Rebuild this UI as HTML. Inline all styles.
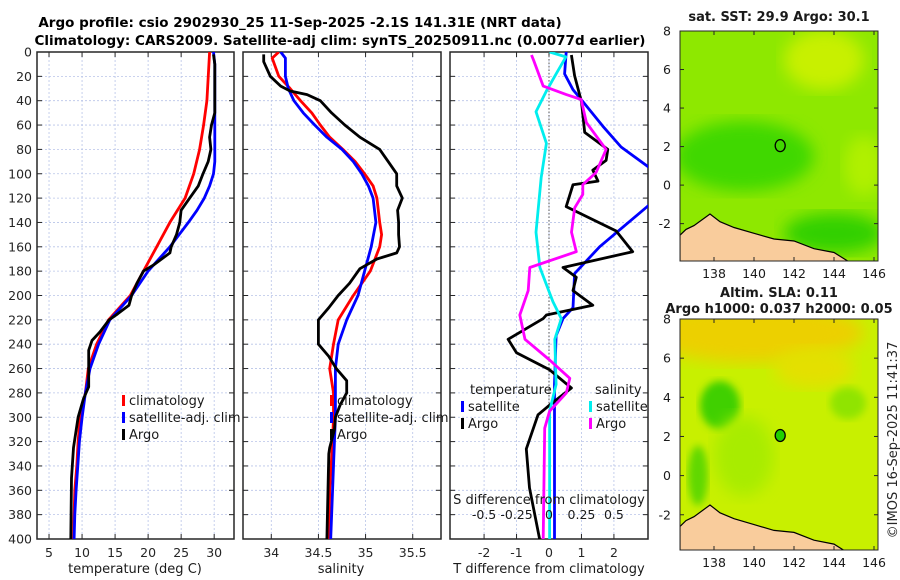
<!DOCTYPE html>
<html><head><meta charset="utf-8"><style>
html,body{margin:0;padding:0;background:#fff;}
svg{display:block;font-family:"DejaVu Sans","Liberation Sans",sans-serif;}
</style></head><body>
<svg id="fig" width="900" height="580" viewBox="0 0 900 580">
<defs>
<clipPath id="c1"><rect x="37" y="52" width="197" height="487"/></clipPath>
<clipPath id="c2"><rect x="243" y="52" width="198" height="487"/></clipPath>
<clipPath id="c3"><rect x="450" y="52" width="198" height="487"/></clipPath>
<clipPath id="cm1"><rect x="680" y="31" width="198" height="230"/></clipPath>
<clipPath id="cm2"><rect x="680" y="319" width="198" height="231"/></clipPath>
<filter id="blur8"><feGaussianBlur stdDeviation="8"/></filter>
<filter id="blur4"><feGaussianBlur stdDeviation="4"/></filter>
</defs>
<text x="300" y="27" text-anchor="middle" font-size="13.5" font-weight="bold" fill="#000">Argo profile: csio 2902930_25 11-Sep-2025 -2.1S 141.31E (NRT data)</text>
<text x="340" y="45" text-anchor="middle" font-size="13.5" font-weight="bold" fill="#000">Climatology: CARS2009. Satellite-adj clim: synTS_20250911.nc (0.0077d earlier)</text>
<g id="plots"></g>
<g id="maps"></g>
<text transform="translate(897,440) rotate(-90)" text-anchor="middle" font-size="13" fill="#262626">©IMOS 16-Sep-2025 11:41:37</text>
</svg>
<script>
// ---- data ----
var depthTicks = [0,20,40,60,80,100,120,140,160,180,200,220,240,260,280,300,320,340,360,380,400];
var tempTicks = [5,10,15,20,25,30];
var salTicks = [34,34.5,35,35.5];
var salTickLabels = ["34","34.5","35","35.5"];
var dTTicks = [-2,-1,0,1,2];
var dSTicks = [-0.5,-0.25,0,0.25,0.5];
var dSTickLabels = ["-0.5","-0.25","0","0.25","0.5"];

var tClimDepth = [0,40,60,80,100,120,140,160,180,200,220,240,260,280,300,320,340,360,380,400];
var tClimVals = [29.3,28.9,28.4,27.8,26.9,25.6,23.3,21.3,19.3,17.3,14.0,12.2,10.95,10.5,9.7,9.4,9.2,8.9,8.8,8.7];
var tSatDepth = [0,10,90,100,110,120,130,140,160,180,200,220,240,260,280,300,320,340,360,380,400];
var tSatVals = [29.9,30.1,30.1,29.9,29.3,28.5,27.4,26.1,23.3,20.0,17.5,14.2,12.5,11.2,10.5,10.0,9.6,9.35,9.1,8.9,8.8];
var tArgoDepth = [2,10,50,60,70,80,90,100,110,120,130,140,150,160,165,175,180,190,200,208,215,220,230,237,245,260,275,285,300,325,350,400];
var tArgoVals = [29.9,30.1,30.1,29.6,29.3,29.5,29.1,28.3,27.6,26.3,25.0,24.8,24.3,23.5,23.3,20.8,19.3,18.3,17.5,17.1,15.4,14.1,12.7,11.5,11.0,11.0,11.0,10.2,9.4,8.7,8.4,8.3];

var sClimDepth = [0,5,20,30,40,50,60,70,80,90,100,110,120,140,150,160,170,180,190,200,220,240,260,280,300,320,360,400];
var sClimVals = [34.08,34.01,34.08,34.2,34.31,34.43,34.52,34.62,34.76,34.89,34.99,35.08,35.12,35.15,35.17,35.15,35.10,35.05,34.96,34.87,34.71,34.66,34.62,34.66,34.66,34.65,34.62,34.61];
var sSatDepth = [0,5,20,30,40,50,60,70,80,90,100,110,120,140,160,180,200,220,240,260,300,340,400];
var sSatVals = [34.1,34.15,34.15,34.18,34.24,34.34,34.46,34.59,34.75,34.87,34.96,35.03,35.08,35.11,35.06,34.99,34.92,34.80,34.71,34.68,34.68,34.66,34.63];
var sArgoDepth = [2,8,20,28,32,35,40,50,60,70,80,90,100,110,120,130,140,150,160,165,170,178,190,200,210,220,240,250,260,270,280,290,300,310,325,330,400];
var sArgoVals = [33.92,33.92,33.99,34.1,34.2,34.38,34.52,34.64,34.78,34.94,35.15,35.24,35.33,35.33,35.39,35.34,35.35,35.35,35.36,35.33,35.12,34.94,34.83,34.71,34.61,34.50,34.50,34.61,34.69,34.80,34.80,34.73,34.68,34.67,34.62,34.61,34.59];

var dTArgoDepth = [2.5,19.5,41,66,80,89,97,106,109,127,147,164,177,185,196,208,216,219,236,247,261,276,290,298,326,358,400];
var dTArgoVals = [0.69,0.79,1.0,1.10,1.81,1.76,1.35,1.51,0.74,0.53,2.07,2.58,0.43,0.84,0.74,1.35,-0.08,-0.18,-1.26,-1.0,0.02,0.69,0.02,-0.34,-0.70,-0.60,-0.29];
var dTSatDepth = [0,18,31,41,61,78,99,109,123,160,182,210,219,233,273,400];
var dTSatVals = [0.53,0.48,0.74,1.05,1.66,2.22,3.3,3.4,3.2,1.56,0.79,0.74,0.43,0.22,0.17,0.17];
var dSSatDepth = [0,4,18,32,49,75,103,148,177,205,219,236,273,295,400];
var dSSatVals = [0.005,0.13,0.055,-0.02,-0.10,-0.02,-0.06,-0.10,-0.07,0.03,0.095,0.045,0.055,0.005,0.005];
var dSArgoDepth = [2.5,7,28,35,39,58,80,99,109,117,128,148,164,177,196,216,236,253,268,280,295,309,400];
var dSArgoVals = [-0.135,-0.118,-0.045,0.133,0.248,0.288,0.44,0.363,0.26,0.26,0.198,0.173,0.21,-0.148,-0.16,-0.225,-0.185,0.005,0.16,0.133,0.005,-0.033,-0.045];

var mapLonTicks = [138,140,142,144,146];
var mapLatTicks = [8,6,4,2,0,-2];
var coastLon = [136.3,136.6,137.0,137.8,138.3,139.0,140.0,141.0,142.0,143.0,144.0,144.7];
var coastLat = [-2.6,-2.3,-2.1,-1.5,-1.9,-2.2,-2.5,-2.8,-2.9,-3.3,-3.5,-3.95];
var floatLon = [141.31];
var floatLat = [2.05];

// ---- helpers ----
var NS = "http://www.w3.org/2000/svg";
function mk(tag, attrs, parent){var e=document.createElementNS(NS,tag);for(var k in attrs)e.setAttribute(k,attrs[k]);parent.appendChild(e);return e;}
var plots = document.getElementById('plots');
var Y0=52, Y1=539;
function yD(d){return Y0 + d*(Y1-Y0)/400;}
function linScale(d0,d1,r0,r1){return function(v){return r0+(v-d0)*(r1-r0)/(d1-d0);};}
var xT = linScale(3.18,33.0,37,234);
var xS = linScale(33.70,35.80,243,441);
var xDT = linScale(-3.05,3.05,450,648);
var xDS = function(v){return xDT(v*4);};

function panel(name,x0,x1,xs,ticks,labels,showY){
  var g=mk('g',{},plots);
  
  
  depthTicks.forEach(function(d){
    var l=mk('line',{x1:x0,x2:x1,y1:yD(d),y2:yD(d),stroke:'#b8c4e8','stroke-width':0.8,'stroke-dasharray':'2,2'},g);
    
    
    mk('line',{x1:x0,x2:x0+5,y1:yD(d),y2:yD(d),stroke:'#262626','stroke-width':1},g);
    mk('line',{x1:x1-5,x2:x1,y1:yD(d),y2:yD(d),stroke:'#262626','stroke-width':1},g);
    if(showY){
      var t=mk('text',{x:x0-5,y:yD(d)+4.5,'text-anchor':'end','font-size':12.5,fill:'#262626'},g);
      t.textContent=d;
      
      
    }
  });
  ticks.forEach(function(v,i){
    var x=xs(v);
    var l=mk('line',{x1:x,x2:x,y1:Y0,y2:Y1,stroke:'#b8c4e8','stroke-width':0.8,'stroke-dasharray':'2,2'},g);
    
    
    mk('line',{x1:x,x2:x,y1:Y1-5,y2:Y1,stroke:'#262626','stroke-width':1},g);
    mk('line',{x1:x,x2:x,y1:Y0,y2:Y0+5,stroke:'#262626','stroke-width':1},g);
    var t=mk('text',{x:x,y:557,'text-anchor':'middle','font-size':12.5,fill:'#262626'},g);
    t.textContent=labels[i];
    
    
  });
  var r=mk('rect',{x:x0,y:Y0,width:x1-x0,height:Y1-Y0,fill:'none',stroke:'#262626','stroke-width':1.5},g);
  
  
  return g;
}
function series(g,name,depths,vals,xs,color,clip){
  var d='';
  for(var i=0;i<depths.length;i++){d+=(i?'L':'M')+xs(vals[i]).toFixed(1)+','+yD(depths[i]).toFixed(1);}
  var p=mk('path',{d:d,fill:'none',stroke:color,'stroke-width':2.8,'stroke-linejoin':'round','clip-path':'url(#'+clip+')'},g);
  
  
}
function label(g,name,x,y,txt,size,anchor,weight){
  var t=mk('text',{x:x,y:y,'text-anchor':anchor||'start','font-size':size||12.5,fill:'#1a1a1a'},g);
  if(weight)t.setAttribute('font-weight',weight);
  t.textContent=txt;
  
  
  return t;
}
function legendEntry(g,name,x,y,color,txt){
  var m=mk('rect',{x:x,y:y-10,width:3,height:11,fill:color},g);
  
  
  label(g,name,x+7,y,txt,13);
}

// Panel 1: temperature
var g1=panel('temperature-panel',37,234,xT,tempTicks,tempTicks.map(String),true);
series(g1,'temp-climatology-line',tClimDepth,tClimVals,xT,'#ff0000','c1');
series(g1,'temp-satellite-line',tSatDepth,tSatVals,xT,'#0000ff','c1');
series(g1,'temp-argo-line',tArgoDepth,tArgoVals,xT,'#000000','c1');
label(g1,'temperature-axis-title',135,573,'temperature (deg C)',13,'middle');
legendEntry(g1,'legend-climatology',122,405,'#ff0000','climatology');
legendEntry(g1,'legend-satellite-adj',122,422,'#0000ff','satellite-adj. clim');
legendEntry(g1,'legend-argo',122,439,'#000000','Argo');

// Panel 2: salinity
var g2=panel('salinity-panel',243,441,xS,salTicks,salTickLabels,false);
series(g2,'sal-climatology-line',sClimDepth,sClimVals,xS,'#ff0000','c2');
series(g2,'sal-satellite-line',sSatDepth,sSatVals,xS,'#0000ff','c2');
series(g2,'sal-argo-line',sArgoDepth,sArgoVals,xS,'#000000','c2');
label(g2,'salinity-axis-title',341,573,'salinity',13,'middle');
legendEntry(g2,'legend-sal-climatology',330,405,'#ff0000','climatology');
legendEntry(g2,'legend-sal-satellite-adj',330,422,'#0000ff','satellite-adj. clim');
legendEntry(g2,'legend-sal-argo',330,439,'#000000','Argo');

// Panel 3: differences
var g3=panel('difference-panel',450,648,xDT,dTTicks,dTTicks.map(String),false);
var zl=mk('line',{x1:xDT(0),x2:xDT(0),y1:Y0,y2:Y1,stroke:'#555','stroke-width':1,'stroke-dasharray':'1.5,2'},g3);


series(g3,'dT-satellite-line',dTSatDepth,dTSatVals,xDT,'#0000ff','c3');
series(g3,'dT-argo-line',dTArgoDepth,dTArgoVals,xDT,'#000000','c3');
series(g3,'dS-satellite-line',dSSatDepth,dSSatVals,xDS,'#00eeee','c3');
series(g3,'dS-argo-line',dSArgoDepth,dSArgoVals,xDS,'#ff00ff','c3');
label(g3,'dT-axis-title',549,573,'T difference from climatology',13,'middle');
label(g3,'dS-axis-title',549,504,'S difference from climatology',13,'middle');
dSTicks.forEach(function(v,i){
  var t=label(g3,'dS-tick-label',xDS(v),519,dSTickLabels[i],12.5,'middle');
});
label(g3,'legend-temperature-header',470,394,'temperature',13);
legendEntry(g3,'legend-dT-satellite',461,411,'#0000ff','satellite');
legendEntry(g3,'legend-dT-argo',461,428,'#000000','Argo');
label(g3,'legend-salinity-header',595,394,'salinity',13);
legendEntry(g3,'legend-dS-satellite',589,411,'#00eeee','satellite');
legendEntry(g3,'legend-dS-argo',589,428,'#ff00ff','Argo');

// ---- maps ----
var maps=document.getElementById('maps');
function drawMap(name,top,bot,latTop,latBot,clip,kind,floatFill){
  var g=mk('g',{},maps);
  
  
  var xL=linScale(136.3,146.2,680,878);
  var yL=linScale(latTop,latBot,top,bot);
  var c=mk('g',{'clip-path':'url(#'+clip+')'},g);
  if(kind==='sst'){
    mk('rect',{x:680,y:top,width:198,height:bot-top,fill:'#8ee800'},c);
    mk('ellipse',{cx:xL(139.5),cy:yL(1.5),rx:70,ry:35,fill:'#40d800',filter:'url(#blur8)'},c);
    mk('ellipse',{cx:xL(143.5),cy:yL(6.5),rx:40,ry:30,fill:'#c8f000',filter:'url(#blur8)'},c);
    mk('ellipse',{cx:xL(144),cy:yL(-2.5),rx:50,ry:20,fill:'#30d000',filter:'url(#blur8)'},c);
    mk('ellipse',{cx:xL(145.5),cy:yL(1),rx:20,ry:30,fill:'#b0f000',filter:'url(#blur8)'},c);
  } else {
    mk('rect',{x:680,y:top,width:198,height:bot-top,fill:'#c8f000'},c);
    mk('ellipse',{cx:xL(140),cy:yL(7.3),rx:110,ry:30,fill:'#ecd000',filter:'url(#blur8)'},c);
    mk('ellipse',{cx:xL(143),cy:yL(5.5),rx:40,ry:20,fill:'#e4e000',filter:'url(#blur8)'},c);
    mk('ellipse',{cx:xL(138.3),cy:yL(3.6),rx:20,ry:24,fill:'#40d000',filter:'url(#blur4)'},c);
    mk('ellipse',{cx:xL(137.2),cy:yL(0),rx:10,ry:30,fill:'#60d800',filter:'url(#blur4)'},c);
    mk('ellipse',{cx:xL(144.7),cy:yL(3.7),rx:18,ry:16,fill:'#90e400',filter:'url(#blur4)'},c);
    mk('ellipse',{cx:xL(139.5),cy:yL(1),rx:30,ry:40,fill:'#a8ec00',filter:'url(#blur8)'},c);
  }
  var d='M'+xL(coastLon[0])+','+(bot+2);
  for(var i=0;i<coastLon.length;i++){d+='L'+xL(coastLon[i]).toFixed(1)+','+yL(coastLat[i]).toFixed(1);}
  d+='L'+xL(coastLon[coastLon.length-1]).toFixed(1)+','+(bot+2)+'Z';
  var land=mk('path',{d:d,fill:'#f9cc9c',stroke:'#000','stroke-width':1.2},c);
  
  
  var fm=mk('ellipse',{cx:xL(floatLon[0]),cy:yL(floatLat[0]),rx:5,ry:6,fill:floatFill,stroke:'#000','stroke-width':1.3},g);
  
  
  var fr=mk('rect',{x:680,y:top,width:198,height:bot-top,fill:'none',stroke:'#262626','stroke-width':1},g);
  
  
  mapLatTicks.forEach(function(v){
    var y=yL(v);
    mk('line',{x1:680,x2:684,y1:y,y2:y,stroke:'#262626'},g);
    mk('line',{x1:874,x2:878,y1:y,y2:y,stroke:'#262626'},g);
    var t=label(g,'map-lat-tick-label',671,y+4.5,String(v),12.5,'end');
  });
  mapLonTicks.forEach(function(v){
    var x=xL(v);
    mk('line',{x1:x,x2:x,y1:bot-4,y2:bot,stroke:'#262626'},g);
    mk('line',{x1:x,x2:x,y1:top,y2:top+4,stroke:'#262626'},g);
    var t=label(g,'map-lon-tick-label',x,bot+17,String(v),12.5,'middle');
  });
  return g;
}
var m1=drawMap('sst-map',31,261,8,-3.94,'cm1','sst','none');
label(m1,'sst-map-title',779,21,'sat. SST: 29.9 Argo: 30.1',13,'middle','bold');
var m2=drawMap('sla-map',319,550,8,-3.8,'cm2','sla','#20d000');
label(m2,'sla-map-title-1',779,297,'Altim. SLA: 0.11',13,'middle','bold');
label(m2,'sla-map-title-2',779,313,'Argo h1000: 0.037 h2000: 0.05',13,'middle','bold');
</script>
</body></html>
